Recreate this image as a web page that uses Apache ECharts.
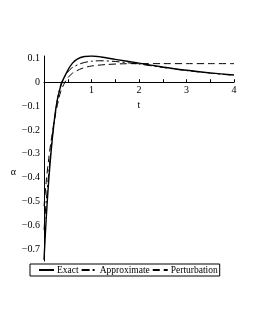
<!DOCTYPE html>
<html><head><meta charset="utf-8">
<script src="https://cdn.jsdelivr.net/npm/echarts@6/dist/echarts.min.js"></script>
<style>html,body{margin:0;padding:0;background:#fff}#c{width:255px;height:330px}</style>
</head><body><div id="c"></div>
<script>
const seriesNames = ['Exact', 'Approximate', 'Perturbation'];
const exactT =   [0, 0.05, 0.1, 0.15, 0.2, 0.25, 0.3, 0.38, 0.5, 0.6, 0.7, 0.85, 1.0, 1.2, 1.5, 2.0, 2.5, 3.0, 3.5, 4.0];
const exactA =   [-0.745, -0.56, -0.41, -0.29, -0.19, -0.11, -0.055, 0, 0.05, 0.08, 0.097, 0.108, 0.11, 0.106, 0.096, 0.08, 0.064, 0.05, 0.039, 0.03];
const approxT =  [0, 0.05, 0.1, 0.15, 0.2, 0.25, 0.3, 0.37, 0.5, 0.6, 0.8, 1.0, 1.2, 1.5, 2.0, 2.5, 3.0, 3.5, 4.0];
const approxA =  [-0.62, -0.49, -0.38, -0.28, -0.19, -0.115, -0.055, 0, 0.042, 0.062, 0.08, 0.088, 0.09, 0.087, 0.076, 0.062, 0.049, 0.038, 0.029];
const pertT =    [0, 0.05, 0.1, 0.15, 0.2, 0.25, 0.3, 0.35, 0.44, 0.5, 0.6, 0.8, 1.0, 1.3, 1.6, 2.0, 2.5, 3.0, 3.5, 4.0];
const pertA =    [-0.52, -0.41, -0.32, -0.245, -0.18, -0.125, -0.08, -0.04, 0, 0.018, 0.038, 0.058, 0.068, 0.074, 0.077, 0.078, 0.078, 0.078, 0.078, 0.078];
const yTicks = [-0.7, -0.6, -0.5, -0.4, -0.3, -0.2, -0.1, 0, 0.1];
const xTicks = [1, 2, 3, 4];
const xMinorTicks = [0.5, 1.5, 2.5, 3.5];

const zip = (t, a) => t.map((v, i) => [v, a[i]]);
const font = 'Liberation Serif';
const yMin = -0.75, yMax = 0.11;
const gridTop = 56, gridBottom = 69;
const plotH = 330 - gridTop - gridBottom;
const zeroY = gridTop + plotH * (yMax - 0) / (yMax - yMin);
const chart = echarts.init(document.getElementById('c'), null, {renderer: 'canvas'});
chart.setOption({
  animation: false,
  backgroundColor: '#fff',
  grid: [
    {left: 44, right: 21, top: gridTop, bottom: gridBottom},
    {left: 44, right: 21, top: gridTop, height: zeroY - gridTop}
  ],
  xAxis: [
    {type: 'value', gridIndex: 0, min: 0, max: 4, show: false},
    {type: 'value', gridIndex: 1, min: 0, max: 4, position: 'bottom',
      name: 't', nameLocation: 'middle', nameGap: 18,
      nameTextStyle: {fontFamily: font, fontSize: 10, color: '#000'},
      axisLine: {onZero: false, lineStyle: {color: '#000', width: 1}},
      axisTick: {show: true, inside: true, length: 3, customValues: xTicks.concat(xMinorTicks), lineStyle: {color: '#000'}},
      axisLabel: {customValues: xTicks, fontFamily: font, fontSize: 10, color: '#000', margin: 3},
      splitLine: {show: false}}
  ],
  yAxis: [
    {type: 'value', gridIndex: 0, min: yMin, max: yMax,
      name: 'α', nameLocation: 'middle', nameGap: 25, nameRotate: 0,
      nameTextStyle: {fontFamily: font, fontSize: 10, color: '#000', verticalAlign: 'top', lineHeight: 28},
      axisLine: {onZero: false, lineStyle: {color: '#000', width: 1}},
      axisTick: {show: false},
      axisLabel: {customValues: yTicks, fontFamily: font, fontSize: 10, color: '#000', margin: 4,
        formatter: v => (Math.round(v * 10) / 10).toString().replace('-', '−')},
      splitLine: {show: false}},
    {type: 'value', gridIndex: 1, min: 0, max: yMax, show: false}
  ],
  legend: {
    data: seriesNames, left: 30, top: 264, orient: 'horizontal',
    itemWidth: 15, itemHeight: 8, itemGap: 2,
    borderColor: '#000', borderWidth: 1, padding: [1, 2, 1, 8],
    itemStyle: {opacity: 0},
    textStyle: {fontFamily: font, fontSize: 9.5, color: '#000', padding: [0, 0, 0, -2]}
  },
  series: [
    {name: seriesNames[0], type: 'line', smooth: 0.3, showSymbol: false, symbol: 'none',
      data: zip(exactT, exactA), lineStyle: {color: '#000', width: 1.4, type: 'solid'}, itemStyle: {color: '#000'}},
    {name: seriesNames[1], type: 'line', smooth: 0.3, showSymbol: false, symbol: 'none',
      data: zip(approxT, approxA), lineStyle: {color: '#000', width: 1, type: [8, 3, 2, 3]}, itemStyle: {color: '#000'}},
    {name: seriesNames[2], type: 'line', smooth: 0.3, showSymbol: false, symbol: 'none',
      data: zip(pertT, pertA), lineStyle: {color: '#000', width: 1, type: [7, 4]}, itemStyle: {color: '#000'}}
  ]
});
</script></body></html>
